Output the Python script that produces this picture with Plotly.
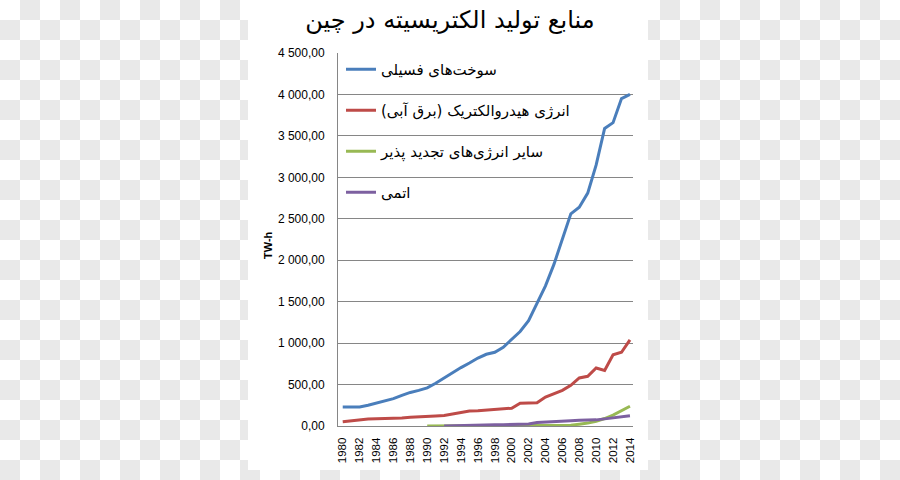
import plotly.graph_objects as go

years = list(range(1980, 2015))

fossil = [228, 228, 230, 250, 275, 305, 330, 370, 405, 430,
          460, 515, 580, 640, 705, 760, 820, 865, 890, 950,
          1040, 1140, 1270, 1480, 1690, 1950, 2250, 2560, 2640, 2810,
          3150, 3590, 3660, 3950, 4000]

hydro = [50, 62, 72, 84, 86, 88, 90, 98, 106, 114,
         120, 122, 128, 148, 162, 180, 185, 192, 200, 205,
         215, 275, 275, 280, 350, 390, 430, 490, 580, 600,
         700, 670, 860, 890, 1040]

other_renew = [None] * 10 + [1, 1, 2, 2, 2, 2, 2, 2, 2, 2,
                             2, 3, 3, 3, 3, 5, 6, 10, 22, 35,
                             58, 90, 132, 185, 238]

nuclear = [None] * 12 + [1, 3, 14, 13, 14, 14, 14, 15,
                         17, 17, 25, 43, 50, 53, 55, 62, 68, 70,
                         74, 86, 97, 110, 125]

series_names = ["سوخت‌های فسیلی", "انرژی هیدروالکتریک (برق آبی)",
                "سایر انرژی‌های تجدید پذیر", "اتمی"]
series_values = [fossil, hydro, other_renew, nuclear]
series_colors = ["#4A7EBB", "#BE4B48", "#98B954", "#7D60A0"]

title_text = "منابع تولید الکتریسیته در چین"
y_title = "TW-h"
y_ticks = list(range(0, 4501, 500))
x_ticks = list(range(1980, 2015, 2))

W, H = 900, 480
L, R, T, B = 338, 633, 53, 426
pw, ph = R - L, B - T


def px_x(p):
    return (p - L) / pw


def px_y(p):
    return (B - p) / ph


# checkerboard backdrop (transparent-image look) with a white card
CHECK = "#e9e9e9"
shapes = []
SQ = 20
for r in range(H // SQ):
    for c in range(W // SQ):
        if (r + c) % 2 == 1:
            x0, y0 = c * SQ, r * SQ
            shapes.append(dict(type="rect", xref="paper", yref="paper",
                               x0=px_x(x0), x1=px_x(x0 + SQ),
                               y0=px_y(y0 + SQ), y1=px_y(y0),
                               fillcolor=CHECK, line=dict(width=0),
                               layer="below"))
shapes.append(dict(type="rect", xref="paper", yref="paper",
                   x0=px_x(248), x1=px_x(648), y0=px_y(470), y1=px_y(0),
                   fillcolor="#ffffff", line=dict(width=0), layer="below"))

fig = go.Figure()
for i, (name, vals, col) in enumerate(zip(series_names, series_values, series_colors)):
    fig.add_trace(go.Scatter(
        x=years, y=vals, name=name, mode="lines",
        line=dict(color=col, width=3),
        legendgroup=f"g{i}", connectgaps=False,
    ))

fig.update_layout(
    width=W, height=H,
    margin=dict(l=L, r=W - R, t=T, b=H - B, autoexpand=False),
    paper_bgcolor="#ffffff",
    plot_bgcolor="rgba(0,0,0,0)",
    separators=", ",
    font=dict(family="DejaVu Sans", color="#000000"),
    title=dict(text=title_text, x=450 / W, xref="container", xanchor="center",
               y=1 - 20 / H, yref="container", yanchor="middle",
               font=dict(family="DejaVu Sans", size=24, color="#000000")),
    showlegend=True,
    legend=dict(x=px_x(341), y=1 - (53 - T) / ph, xanchor="left", yanchor="top",
                bgcolor="rgba(0,0,0,0)", borderwidth=0,
                font=dict(family="DejaVu Sans", size=15, color="#000000"),
                tracegroupgap=18.5, itemwidth=30),
    shapes=shapes,
    annotations=[dict(text="<b>" + y_title + "</b>", xref="paper", yref="paper",
                      x=px_x(268), y=px_y(245), textangle=-90,
                      showarrow=False, xanchor="center", yanchor="middle",
                      font=dict(family="Liberation Sans", size=11, color="#000000"))],
)

fig.update_xaxes(
    range=[1979.44, 2014.36], tickvals=x_ticks, tickformat="d",
    tickangle=-90, ticks="", showgrid=False, zeroline=False,
    showline=True, linecolor="#868686", linewidth=1,
    tickfont=dict(family="Liberation Sans", size=11.5, color="#000000"),
    ticklabelstandoff=6,
)
fig.update_yaxes(
    range=[0, 4500], tickvals=y_ticks, tickformat=",.2f",
    ticks="", showgrid=True, gridcolor="#868686", gridwidth=1,
    zeroline=False, showline=True, linecolor="#868686", linewidth=1,
    tickfont=dict(family="Liberation Sans", size=12, color="#000000"),
    ticklabelstandoff=10,
)

fig.write_html("out.html", config={"displayModeBar": False},
               post_script="document.body.style.margin='0px';")
